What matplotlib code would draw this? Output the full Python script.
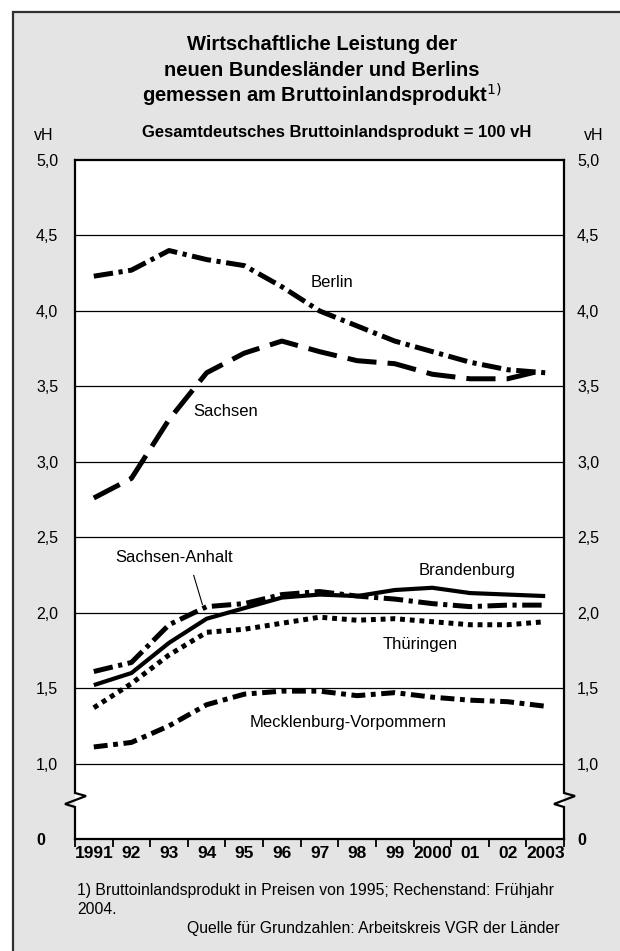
import numpy as np
import matplotlib
matplotlib.use("Agg")
import matplotlib.pyplot as plt
from matplotlib.patches import Rectangle
from matplotlib.lines import Line2D

plt.rcParams['font.family'] = ['Liberation Sans', 'DejaVu Sans']
plt.rcParams['lines.scale_dashes'] = False

# ---- data (share of all-German GDP, vH) ----
years = ["1991", "92", "93", "94", "95", "96", "97", "98", "99", "2000", "01", "02", "2003"]
berlin = [4.23, 4.27, 4.40, 4.34, 4.30, 4.16, 4.00, 3.90, 3.80, 3.73, 3.66, 3.61, 3.59]
sachsen = [2.76, 2.89, 3.28, 3.59, 3.72, 3.80, 3.73, 3.67, 3.65, 3.58, 3.55, 3.55, 3.61]
brandenburg = [1.52, 1.60, 1.80, 1.96, 2.03, 2.10, 2.12, 2.11, 2.15, 2.165, 2.13, 2.12, 2.11]
sachsen_anhalt = [1.61, 1.67, 1.92, 2.04, 2.06, 2.12, 2.14, 2.11, 2.09, 2.06, 2.04, 2.05, 2.05]
thueringen = [1.37, 1.53, 1.72, 1.87, 1.89, 1.93, 1.97, 1.95, 1.96, 1.94, 1.92, 1.92, 1.94]
mv = [1.11, 1.14, 1.25, 1.39, 1.46, 1.48, 1.48, 1.45, 1.47, 1.44, 1.42, 1.41, 1.38]

y_ticks = [1.0, 1.5, 2.0, 2.5, 3.0, 3.5, 4.0, 4.5, 5.0]
y_labels = ["1,0", "1,5", "2,0", "2,5", "3,0", "3,5", "4,0", "4,5", "5,0"]

W, H = 620, 951
fig = plt.figure(figsize=(W / 100, H / 100), dpi=100)
fig.patch.set_facecolor("white")


def fx(px):
    return px / W


def fy(py):
    return 1 - py / H


# grey panel with dark frame
panel = Rectangle((fx(12.5), -0.05), 1.2, fy(11.5) + 0.05,
                  transform=fig.transFigure, facecolor="#e4e4e4",
                  edgecolor="#303030", linewidth=1.6, zorder=-10)
fig.add_artist(panel)

ax = fig.add_axes([fx(75), fy(839), fx(564) - fx(75), fy(160) - fy(839)])
ax.set_zorder(1)
ax.set_facecolor("white")


# broken y axis: 0..1 squeezed into half a unit
def fwd(v):
    v = np.asarray(v, dtype=float)
    return np.where(v >= 1, v - 0.5, v * 0.5)


def inv(t):
    t = np.asarray(t, dtype=float)
    return np.where(t >= 0.5, t + 0.5, t * 2.0)


ax.set_yscale("function", functions=(fwd, inv))
ax.set_ylim(0, 5.0)
x = np.arange(len(years))
ax.set_xlim(-0.5, len(years) - 0.5)

# horizontal grid
for g in [1.0, 1.5, 2.0, 2.5, 3.0, 3.5, 4.0, 4.5]:
    ax.axhline(g, color="black", lw=0.9, zorder=1)

# series
lw = 3.6
ax.plot(x, berlin, color="black", lw=lw, dashes=(14, 4, 3, 4), dash_capstyle="butt", zorder=3)
ax.plot(x, sachsen, color="black", lw=lw, dashes=(21, 8), dash_capstyle="butt", zorder=3)
ax.plot(x, brandenburg, color="black", lw=3.0, solid_capstyle="butt", zorder=3)
ax.plot(x, sachsen_anhalt, color="black", lw=lw, dashes=(14, 4, 3, 4), dash_capstyle="butt", zorder=3)
ax.plot(x, thueringen, color="black", lw=lw, dashes=(3.5, 3.5), dash_capstyle="butt", zorder=3)
ax.plot(x, mv, color="black", lw=lw, dashes=(10, 4, 3.5, 4), dash_capstyle="butt", zorder=3)

# series labels
lab_fs = 12
ax.text(6.33, 4.19, "Berlin", fontsize=lab_fs, ha="center", va="center")
ax.text(2.64, 3.336, "Sachsen", fontsize=lab_fs, ha="left", va="center")
ax.text(2.13, 2.368, "Sachsen-Anhalt", fontsize=lab_fs, ha="center", va="center")
ax.text(9.91, 2.28, "Brandenburg", fontsize=lab_fs, ha="center", va="center")
ax.text(8.68, 1.79, "Thüringen", fontsize=lab_fs, ha="center", va="center")
ax.text(6.77, 1.274, "Mecklenburg-Vorpommern", fontsize=lab_fs, ha="center", va="center")
ax.plot([2.656, 2.887], [2.247, 2.054], color="black", lw=0.8, zorder=2)

# spines: top and bottom plain, sides drawn with a break mark
for s in ["left", "right"]:
    ax.spines[s].set_visible(False)
for s in ["top", "bottom"]:
    ax.spines[s].set_linewidth(1.6)
ax_w = 564 - 75
ax_h = 839 - 160


def brk(px_x, py):
    return ((px_x - 75) / ax_w, (839 - py) / ax_h)


for x0 in (75, 564):
    pts = [brk(x0, 160), brk(x0, 793), brk(x0 + 11, 796), brk(x0 - 10, 804),
           brk(x0, 807), brk(x0, 839)]
    xs, ys = zip(*pts)
    ax.add_line(Line2D(xs, ys, transform=ax.transAxes, color="black", lw=1.6,
                       clip_on=False, zorder=5, solid_joinstyle="miter"))

# y scale labels: left via the axis, right as text a bit closer to the frame
ax.set_yticks(y_ticks)
ax.set_yticklabels(y_labels)
ax.yaxis.set_minor_locator(matplotlib.ticker.NullLocator())
ax.tick_params(axis="y", which="both", length=0, labelsize=11.5, left=False, right=False,
               labelleft=True, labelright=False, pad=12)
ytrans = ax.get_yaxis_transform()
for yv, lab in zip(y_ticks, y_labels):
    ax.text(1.0 + 13 / ax_w, yv, lab, transform=ytrans,
            ha="left", va="center_baseline", fontsize=11.5)

# zero labels at the foot of both scales
ax.text(-34 / ax_w, 0, "0", transform=ytrans, ha="center",
        va="center_baseline", fontsize=11.5, fontweight="bold")
ax.text(1.0 + 18 / ax_w, 0, "0", transform=ytrans, ha="center",
        va="center_baseline", fontsize=11.5, fontweight="bold")

# x ticks: marks at year boundaries, labels centred on years
ax.set_xticks(np.arange(-0.5, len(years), 1.0))
ax.set_xticklabels([])
ax.set_xticks(x, minor=True)
ax.set_xticklabels(years, minor=True, fontweight="bold", fontsize=12.5)
ax.tick_params(axis="x", which="major", length=6, width=1.3, direction="out")
ax.tick_params(axis="x", which="minor", length=0, pad=5)

# titles
tfs = 14.5
fig.text(fx(322), fy(45), "Wirtschaftliche Leistung der", ha="center", va="center",
         fontsize=tfs, fontweight="bold")
fig.text(fx(322), fy(70), "neuen Bundesländer und Berlins", ha="center", va="center",
         fontsize=tfs, fontweight="bold")
fig.text(fx(322), fy(95), r"gemessen am Bruttoinlandsprodukt$^{1)}$", ha="center", va="center",
         fontsize=tfs, fontweight="bold")
fig.text(fx(337), fy(132), "Gesamtdeutsches Bruttoinlandsprodukt = 100 vH", ha="center",
         va="center", fontsize=12, fontweight="bold")
fig.text(fx(44), fy(136), "vH", ha="center", va="center", fontsize=11.5)
fig.text(fx(594), fy(136), "vH", ha="center", va="center", fontsize=11.5)

# footnotes
ffs = 11.3
fig.text(fx(77), fy(890), "1) Bruttoinlandsprodukt in Preisen von 1995; Rechenstand: Frühjahr",
         ha="left", va="center", fontsize=ffs)
fig.text(fx(77), fy(910), "2004.", ha="left", va="center", fontsize=ffs)
fig.text(fx(560), fy(928), "Quelle für Grundzahlen: Arbeitskreis VGR der Länder",
         ha="right", va="center", fontsize=ffs)

fig.savefig("out.png", dpi=100, facecolor=fig.get_facecolor())
